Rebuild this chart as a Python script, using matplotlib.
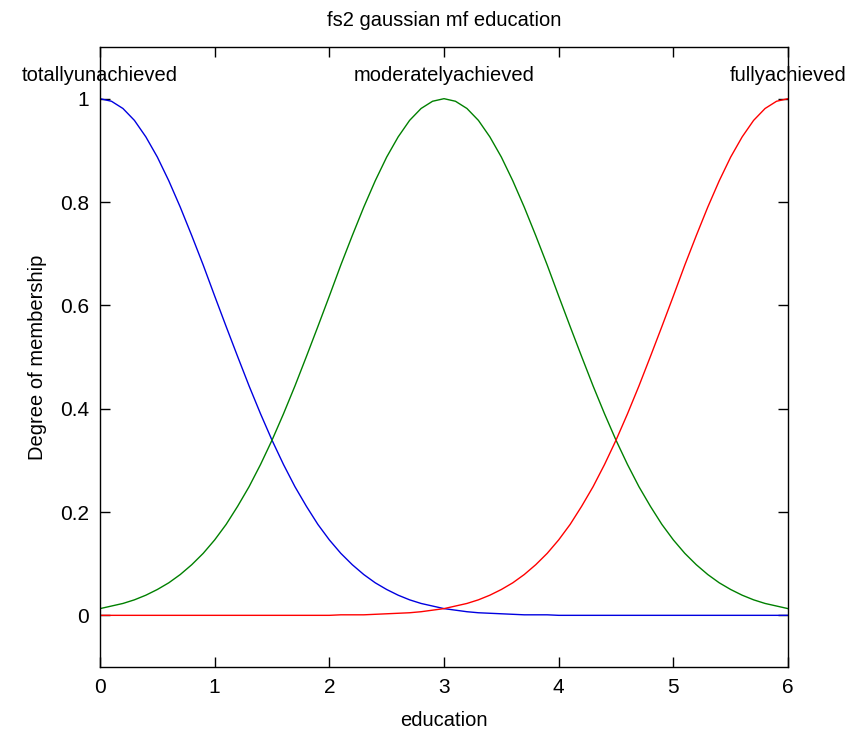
import matplotlib
matplotlib.use("Agg")
import matplotlib.pyplot as plt

education = [round(0.1 * i, 1) for i in range(61)]

totally_unachieved = [1.000, 0.995, 0.981, 0.958, 0.926, 0.887, 0.841, 0.790, 0.735, 0.678,
                      0.618, 0.559, 0.501, 0.444, 0.390, 0.339, 0.292, 0.249, 0.211, 0.176,
                      0.146, 0.120, 0.098, 0.079, 0.063, 0.050, 0.039, 0.030, 0.023, 0.018,
                      0.013, 0.010, 0.007, 0.005, 0.004, 0.003, 0.002, 0.001, 0.001, 0.001,
                      0.000, 0.000, 0.000, 0.000, 0.000, 0.000, 0.000, 0.000, 0.000, 0.000,
                      0.000, 0.000, 0.000, 0.000, 0.000, 0.000, 0.000, 0.000, 0.000, 0.000,
                      0.000]

moderately_achieved = [0.013, 0.018, 0.023, 0.030, 0.039, 0.050, 0.063, 0.079, 0.098, 0.120,
                       0.146, 0.176, 0.211, 0.249, 0.292, 0.339, 0.390, 0.444, 0.501, 0.559,
                       0.618, 0.678, 0.735, 0.790, 0.841, 0.887, 0.926, 0.958, 0.981, 0.995,
                       1.000, 0.995, 0.981, 0.958, 0.926, 0.887, 0.841, 0.790, 0.735, 0.678,
                       0.618, 0.559, 0.501, 0.444, 0.390, 0.339, 0.292, 0.249, 0.211, 0.176,
                       0.146, 0.120, 0.098, 0.079, 0.063, 0.050, 0.039, 0.030, 0.023, 0.018,
                       0.013]

fully_achieved = [0.000, 0.000, 0.000, 0.000, 0.000, 0.000, 0.000, 0.000, 0.000, 0.000,
                  0.000, 0.000, 0.000, 0.000, 0.000, 0.000, 0.000, 0.000, 0.000, 0.000,
                  0.000, 0.001, 0.001, 0.001, 0.002, 0.003, 0.004, 0.005, 0.007, 0.010,
                  0.013, 0.018, 0.023, 0.030, 0.039, 0.050, 0.063, 0.079, 0.098, 0.120,
                  0.146, 0.176, 0.211, 0.249, 0.292, 0.339, 0.390, 0.444, 0.501, 0.559,
                  0.618, 0.678, 0.735, 0.790, 0.841, 0.887, 0.926, 0.958, 0.981, 0.995,
                  1.000]

mf_names = ["totallyunachieved", "moderatelyachieved", "fullyachieved"]
mf_centers = [0, 3, 6]

plt.rcParams['font.family'] = ['Liberation Sans', 'DejaVu Sans']

fig = plt.figure(figsize=(8.57, 7.30), dpi=100)
ax = fig.add_axes([0.1167, 0.0863, 0.8028, 0.8493])

ax.plot(education, totally_unachieved, color='#0000e0', lw=1)
ax.plot(education, moderately_achieved, color='#008000', lw=1)
ax.plot(education, fully_achieved, color='#ff0000', lw=1)

# mf names above each peak
for name, c in zip(mf_names, mf_centers):
    ax.text(c, 1.027, name, ha='center', va='bottom', fontsize=14.5)

ax.set_xlim(0, 6)
ax.set_ylim(-0.1, 1.1)
ax.set_xticks(range(7))
ax.set_yticks([0, 0.2, 0.4, 0.6, 0.8, 1])
ax.set_yticklabels(["0", "0.2", "0.4", "0.6", "0.8", "1"])
ax.tick_params(direction='in', top=True, right=True, length=7, width=1,
               labelsize=15, pad=8)
for s in ax.spines.values():
    s.set_linewidth(1)

ax.set_xlabel("education", fontsize=14.5, labelpad=10)
ax.set_ylabel("Degree of membership", fontsize=14.5, labelpad=9)
ax.set_title("fs2 gaussian mf education", fontsize=14.5, pad=15)

plt.savefig("out.png", dpi=100)
